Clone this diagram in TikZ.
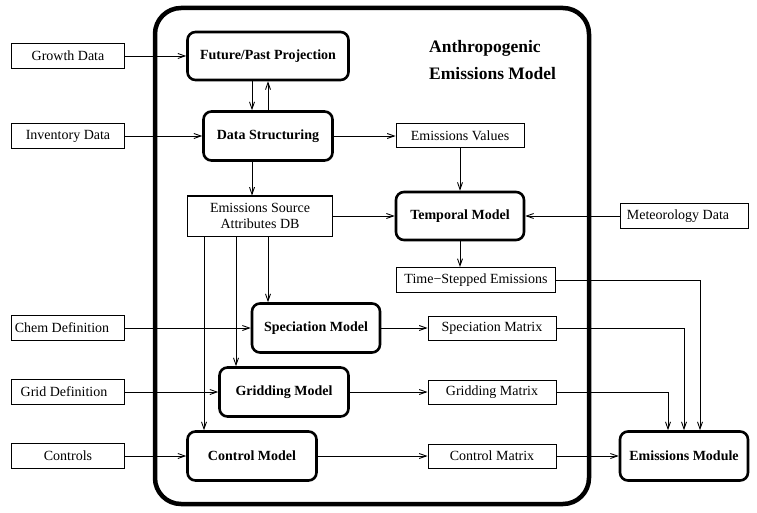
\documentclass[tikz,border=0pt]{standalone}
\usepackage{fontspec}
\setmainfont{Liberation Serif}
\usetikzlibrary{arrows.meta, positioning}
\tikzset{%
  >={Straight Barb[length=7pt,width=5pt]},
  % Specifications for style of nodes:
    base/.style = {rectangle, draw=black, line width=1pt, inner sep=0pt,
                   text centered, font=\fontsize{14}{16}\selectfont},
    inputData/.style = {base, minimum width=113pt, minimum height=25pt},
    dataStore/.style = {base, minimum width=128pt, minimum height=24pt},
    modelBlock/.style = {base, rounded corners=8pt, line width=2.6pt, minimum width=129pt,
                   minimum height=49pt, font=\fontsize{14}{16}\selectfont\bfseries},
    modelFrame/.style = {rectangle, draw=black, rounded corners=26pt, line width=4.5pt},
    link/.style = {line width=0.9pt},
}

\begin{document}
\begin{tikzpicture}[x=1pt, y=-1pt, node distance=80pt, align=center]
  \useasboundingbox (0,0) rectangle (757,513);
  \node (emissionsFrame)  [modelFrame, minimum width=434pt, minimum height=496pt] at (372,256) {};
  \node (frameTitle)      [anchor=west, align=left, inner sep=0pt,
                           font=\fontsize{17.5}{27}\selectfont\bfseries] at (429,60)
                                                                {Anthropogenic\\Emissions Model};

  \node (futurePast)      [modelBlock, minimum width=161pt, minimum height=48pt] at (268,56)
                                                                {Future/Past Projection};
  \node (dataStruct)      [modelBlock, below of=futurePast]    {Data Structuring};
  \node (sourceDB)        [base, minimum width=145pt, minimum height=40pt, below of=dataStruct, xshift=-8pt]
                                                                {Emissions Source\\Attributes DB};
  \node (specModel)       [modelBlock, minimum width=128pt, below of=sourceDB, xshift=56pt, yshift=-32pt]
                                                                {Speciation Model};
  \node (gridModel)       [modelBlock, below of=specModel, xshift=-32pt, yshift=16pt]
                                                                {Gridding Model};
  \node (controlModel)    [modelBlock, below of=gridModel, xshift=-32pt, yshift=16pt]
                                                                {Control Model};
  \node (growthData)      [inputData, left of=futurePast, xshift=-120pt]   {Growth Data};
  \node (inventoryData)   [inputData, left of=dataStruct, xshift=-120pt]   {Inventory Data};
  \node (chemDef)         [inputData, left of=specModel, xshift=-168pt]    {\hspace*{-12pt}Chem Definition};
  \node (gridDef)         [inputData, left of=gridModel, xshift=-136pt]    {\hspace*{-8pt}Grid Definition};
  \node (controls)        [inputData, left of=controlModel, xshift=-104pt] {Controls};
  \node (temporalModel)   [modelBlock, minimum width=128pt, minimum height=48pt, right of=sourceDB, xshift=120pt]
                                                                {Temporal Model};
  \node (emisValues)      [dataStore, above of=temporalModel]  {Emissions Values};
  \node (meteoData)       [dataStore, minimum height=25pt, right of=temporalModel, xshift=144pt]
                                                                {\hspace*{-12pt}Meteorology Data};
  \node (timeStepped)     [dataStore, minimum width=159pt, minimum height=25pt, below of=temporalModel,
                           xshift=16pt, yshift=16pt]            {Time−Stepped Emissions};
  \node (specMatrix)      [dataStore, right of=specModel, xshift=96pt]      {Speciation Matrix};
  \node (gridMatrix)      [dataStore, right of=gridModel, xshift=128pt]     {Gridding Matrix};
  \node (controlMatrix)   [dataStore, right of=controlModel, xshift=160pt]  {Control Matrix};
  \node (emisModule)      [modelBlock, minimum width=128pt, right of=controlMatrix, xshift=112pt]
                                                                {Emissions Module};

  % Specification of lines between nodes
  \draw[link, ->]   (growthData) -- (futurePast);
  \draw[link, ->]   (inventoryData) -- (dataStruct);
  \draw[link, ->]   (chemDef) -- (specModel);
  \draw[link, ->]   (gridDef) -- (gridModel);
  \draw[link, ->]   (controls) -- (controlModel);
  \draw[link, ->]   ([xshift=-16pt]futurePast.south) -- ([xshift=-16pt]dataStruct.north);
  \draw[link, ->]   (dataStruct) -- (futurePast);
  \draw[link, ->]   ([xshift=-16pt]dataStruct.south) -- ([xshift=-8pt]sourceDB.north);
  \draw[link, ->]   ([xshift=8pt]sourceDB.south) -- ([xshift=8pt]sourceDB.south |- specModel.north);
  \draw[link, ->]   ([xshift=-24pt]sourceDB.south) -- ([xshift=-24pt]sourceDB.south |- gridModel.north);
  \draw[link, ->]   ([xshift=-56pt]sourceDB.south) -- ([xshift=-56pt]sourceDB.south |- controlModel.north);
  \draw[link, ->]   (dataStruct) -- (emisValues);
  \draw[link, ->]   (emisValues) -- (temporalModel);
  \draw[link, ->]   (sourceDB) -- (temporalModel);
  \draw[link, ->]   (meteoData) -- (temporalModel);
  \draw[link, ->]   (temporalModel.south) -- (temporalModel.south |- timeStepped.north);
  \draw[link, ->]   (specModel) -- (specMatrix);
  \draw[link, ->]   (gridModel) -- (gridMatrix);
  \draw[link, ->]   (controlModel) -- (controlMatrix);
  \draw[link, ->]   (timeStepped.east) -| ([xshift=16pt]emisModule.north);
  \draw[link, ->]   (specMatrix.east) -| (emisModule.north);
  \draw[link, ->]   (gridMatrix.east) -| ([xshift=-16pt]emisModule.north);
  \draw[link, ->]   (controlMatrix) -- (emisModule);
\end{tikzpicture}
\end{document}
